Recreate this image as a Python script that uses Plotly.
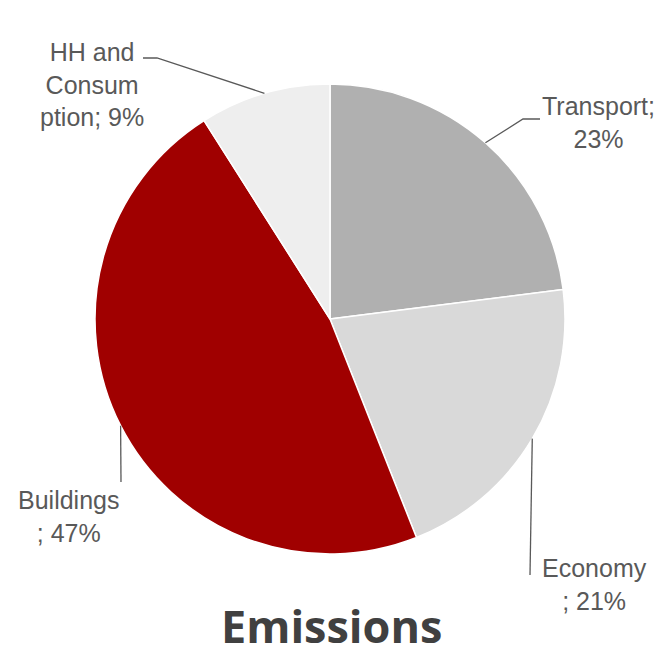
import math
import plotly.graph_objects as go

# ---- data ----
categories = ["Transport", "Economy", "Buildings", "HH and Consumption"]
values = [23, 21, 47, 9]
label_texts = ["Transport;<br>23%", "Economy<br>; 21%", "Buildings<br>; 47%", "HH and<br>Consum<br>ption; 9%"]
colors = ["#b0b0b0", "#d9d9d9", "#a00000", "#eeeeee"]

W, H = 658, 657
# pie geometry (pixels)
CX, CY, R = 330, 319, 235

# label placement (pixels): leader-line end points and text anchors
leader_ends = [
    [(523, 119), (540, 119)],   # Transport
    [(530, 575)],               # Economy
    [(121, 482)],               # Buildings
    [(157, 58), (143, 58)],     # HH
]
text_pos = [(598, 123), (594, 584), (68, 516), (92, 84)]


def px(x):
    return x / W


def py(y):
    return 1 - y / H


fig = go.Figure(go.Pie(
    labels=categories,
    values=values,
    sort=False,
    direction="clockwise",
    rotation=0,
    marker=dict(colors=colors, line=dict(color="white", width=1.5)),
    textinfo="none",
    hoverinfo="label+percent",
    showlegend=False,
    domain=dict(x=[px(CX - R), px(CX + R)], y=[py(CY + R), py(CY - R)]),
))

total = sum(values)
cum = 0
shapes = []
annotations = []
for i, v in enumerate(values):
    mid = (cum + v / 2) / total * 2 * math.pi
    cum += v
    sx = CX + R * math.sin(mid)
    sy = CY - R * math.cos(mid)
    pts = [(sx, sy)] + leader_ends[i]
    path = "M " + " L ".join(f"{px(x):.5f},{py(y):.5f}" for x, y in pts)
    shapes.append(dict(type="path", xref="paper", yref="paper", path=path,
                       line=dict(color="#595959", width=1.3)))
    tx, ty = text_pos[i]
    annotations.append(dict(x=px(tx), y=py(ty), xref="paper", yref="paper",
                            text=label_texts[i], showarrow=False, align="center",
                            xanchor="center", yanchor="middle",
                            font=dict(family="Liberation Sans, Arial, sans-serif",
                                      size=25, color="#595959")))

annotations.append(dict(x=px(331), y=0, xref="paper", yref="paper",
                        text="<b>Emissions</b>", showarrow=False,
                        xanchor="center", yanchor="bottom", borderpad=0,
                        font=dict(family="Open Sans, sans-serif", size=45, color="#404040")))

fig.update_layout(
    width=W, height=H,
    margin=dict(l=0, r=0, t=0, b=0),
    paper_bgcolor="white",
    plot_bgcolor="white",
    shapes=shapes,
    annotations=annotations,
)

fig.write_html("out.html", config={"displayModeBar": False},
               post_script="document.body.style.margin='0';document.body.style.overflow='hidden';")
